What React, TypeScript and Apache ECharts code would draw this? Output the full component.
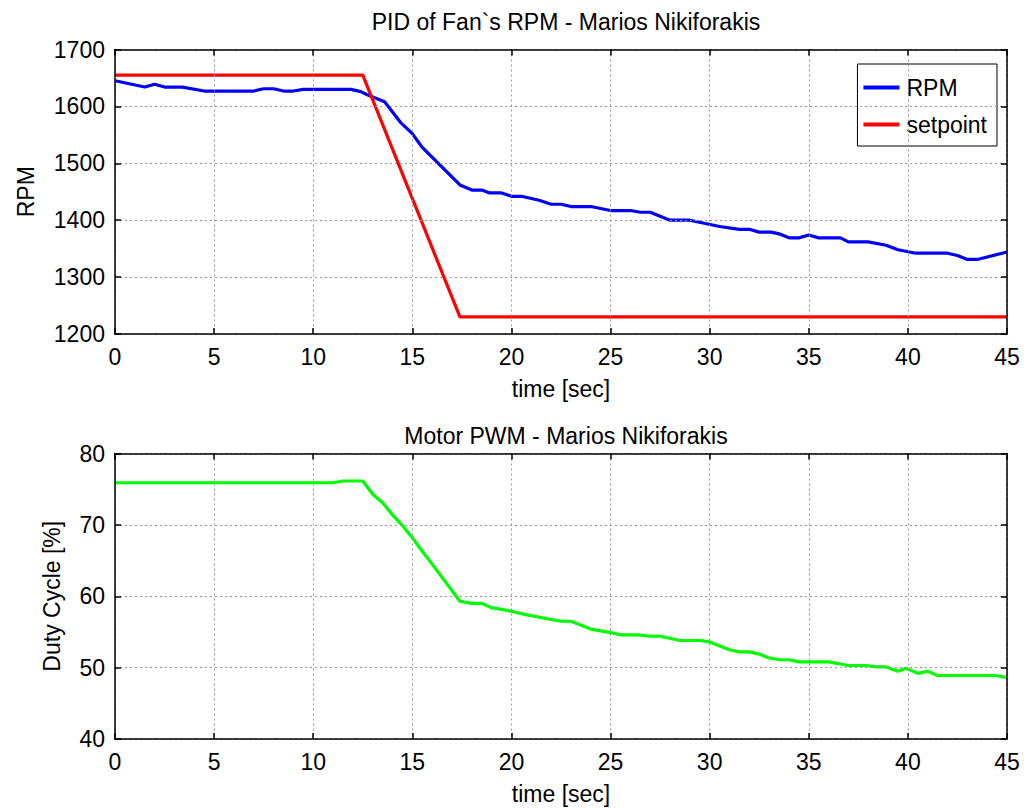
import React, { useEffect, useRef } from "react";
import * as echarts from "echarts";

const xTicks = { min: 0, max: 45, interval: 5 };

const rpmTime = [0, 1.5, 2.0, 2.5, 3.4, 4.5, 7.0, 7.5, 8.0, 8.5, 9.0, 9.5, 11.9, 12.4, 12.7, 13.6, 14.4, 15.0, 15.5, 17.4, 18.0, 18.5, 18.9, 19.5, 20.0, 20.5, 21.4, 22.0, 22.5, 23.0, 24.0, 25.0, 26.0, 26.5, 27.0, 28.0, 29.0, 30.5, 31.5, 32.0, 32.5, 33.1, 33.5, 34.0, 34.5, 35.0, 35.5, 36.6, 37.0, 38.0, 38.9, 39.5, 40.4, 42.0, 42.5, 43.0, 43.5, 45.0];
const rpmValues = [1645, 1634, 1639, 1634, 1634, 1627, 1627, 1631, 1631, 1627, 1627, 1630, 1630, 1626, 1621, 1608, 1572, 1552, 1528, 1462, 1453, 1453, 1448, 1448, 1442, 1442, 1435, 1428, 1428, 1424, 1424, 1417, 1417, 1414, 1414, 1400, 1400, 1389, 1384, 1384, 1379, 1379, 1376, 1369, 1369, 1374, 1369, 1369, 1362, 1362, 1356, 1348, 1342, 1342, 1338, 1331, 1331, 1344];

const setpointTime = [0, 12.5, 17.4, 45];
const setpointValues = [1655, 1655, 1230, 1230];

const pwmTime = [0, 11.0, 11.5, 12.5, 13.0, 13.5, 14.0, 14.5, 15.0, 15.5, 16.0, 17.4, 18.0, 18.5, 19.0, 20.0, 20.6, 21.8, 22.5, 23.0, 24.0, 25.0, 25.5, 26.4, 27.0, 27.5, 28.5, 29.5, 30.0, 31.0, 31.5, 32.0, 32.5, 33.0, 33.5, 34.0, 34.5, 36.0, 37.0, 37.9, 38.4, 38.9, 39.5, 39.9, 40.5, 41.0, 41.5, 44.4, 45.0];
const pwmValues = [75.9, 75.9, 76.15, 76.15, 74.3, 73.1, 71.4, 69.9, 68.2, 66.3, 64.5, 59.3, 59.0, 59.0, 58.4, 57.9, 57.5, 56.85, 56.5, 56.5, 55.4, 54.9, 54.6, 54.6, 54.4, 54.4, 53.8, 53.8, 53.6, 52.5, 52.2, 52.2, 51.9, 51.35, 51.1, 51.1, 50.8, 50.8, 50.3, 50.3, 50.1, 50.1, 49.5, 49.9, 49.2, 49.5, 48.9, 48.9, 48.6];

const rpmAxis = { min: 1200, max: 1700, interval: 100 };
const pwmAxis = { min: 40, max: 80, interval: 10 };

const zip = (a: number[], b: number[]) => a.map((v, i) => [v, b[i]]);

const FONT = "'Liberation Sans', Arial, sans-serif";
const FS = 23;

export default function App() {
  const ref = useRef<HTMLDivElement>(null);
  useEffect(() => {
    if (!ref.current) return;
    const chart = echarts.init(ref.current, null, { renderer: "svg" });

    const splitLine = { show: true, lineStyle: { color: "#999", type: [2, 3] as any, width: 1 } };
    const axisLine = { show: true, onZero: false, lineStyle: { color: "#000", width: 1.5 } };
    const axisTick = { show: true, inside: true, length: 6, lineStyle: { color: "#000", width: 1.5 } };
    const plain = (v: number) => String(v);

    const mkX = (gridIndex: number, main: boolean) => ({
      type: "value",
      gridIndex,
      position: main ? "bottom" : "top",
      ...xTicks,
      axisLine,
      axisTick,
      splitLine: main ? splitLine : { show: false },
      axisLabel: main
        ? { show: true, color: "#000", fontSize: FS, fontFamily: FONT, margin: 11, formatter: plain }
        : { show: false },
      name: main ? "time [sec]" : "",
      nameLocation: "middle",
      nameGap: 43,
      nameTextStyle: { color: "#000", fontSize: FS, fontFamily: FONT },
      z: 5,
    });

    const mkY = (gridIndex: number, main: boolean, cfg: any, name: string, gap: number) => ({
      type: "value",
      gridIndex,
      position: main ? "left" : "right",
      ...cfg,
      axisLine,
      axisTick,
      splitLine: main ? splitLine : { show: false },
      axisLabel: main
        ? { show: true, color: "#000", fontSize: FS, fontFamily: FONT, margin: 10, formatter: plain }
        : { show: false },
      name: main ? name : "",
      nameLocation: "middle",
      nameGap: gap,
      nameTextStyle: { color: "#000", fontSize: FS, fontFamily: FONT },
      z: 5,
    });

    chart.setOption({
      animation: false,
      backgroundColor: "#fff",
      textStyle: { fontFamily: FONT },
      title: [
        {
          text: "PID of Fan`s RPM - Marios Nikiforakis",
          left: 561,
          top: 5,
          textAlign: "center",
          textStyle: { color: "#000", fontSize: FS, fontWeight: "normal", fontFamily: FONT },
        },
        {
          text: "Motor PWM - Marios Nikiforakis",
          left: 561,
          top: 419,
          textAlign: "center",
          textStyle: { color: "#000", fontSize: FS, fontWeight: "normal", fontFamily: FONT },
        },
      ],
      legend: {
        orient: "vertical",
        right: 27,
        top: 64,
        data: [
          { name: "RPM", icon: "rect" },
          { name: "setpoint", icon: "rect" },
        ],
        itemWidth: 36,
        itemHeight: 4,
        itemGap: 14,
        padding: [12, 10, 10, 6],
        borderColor: "#000",
        borderWidth: 1,
        backgroundColor: "#fff",
        textStyle: { color: "#000", fontSize: FS, fontFamily: FONT, padding: [0, 0, 0, 2] },
      },
      grid: [
        { left: 115, right: 17, top: 49.5, height: 284.5, show: false },
        { left: 115, right: 17, top: 453.5, height: 285.5, show: false },
      ],
      xAxis: [mkX(0, true), mkX(0, false), mkX(1, true), mkX(1, false)],
      yAxis: [
        mkY(0, true, rpmAxis, "RPM", 78),
        mkY(0, false, rpmAxis, "", 0),
        mkY(1, true, pwmAxis, "Duty Cycle [%]", 52),
        mkY(1, false, pwmAxis, "", 0),
      ],
      series: [
        {
          name: "RPM",
          type: "line",
          xAxisIndex: 0,
          yAxisIndex: 0,
          data: zip(rpmTime, rpmValues),
          showSymbol: false,
          symbol: "none",
          lineStyle: { color: "#0000ff", width: 3.2 },
          itemStyle: { color: "#0000ff" },
        },
        {
          name: "setpoint",
          type: "line",
          xAxisIndex: 0,
          yAxisIndex: 0,
          data: zip(setpointTime, setpointValues),
          showSymbol: false,
          symbol: "none",
          lineStyle: { color: "#ff0000", width: 3.2 },
          itemStyle: { color: "#ff0000" },
        },
        {
          name: "Duty",
          type: "line",
          xAxisIndex: 2,
          yAxisIndex: 2,
          data: zip(pwmTime, pwmValues),
          showSymbol: false,
          symbol: "none",
          lineStyle: { color: "#00ff00", width: 3.2 },
          itemStyle: { color: "#00ff00" },
        },
      ],
    });
    return () => chart.dispose();
  }, []);
  return (
    <div
      ref={ref}
      style={{ position: "fixed", left: 0, top: 0, width: 1024, height: 809, background: "#fff" }}
    />
  );
}
